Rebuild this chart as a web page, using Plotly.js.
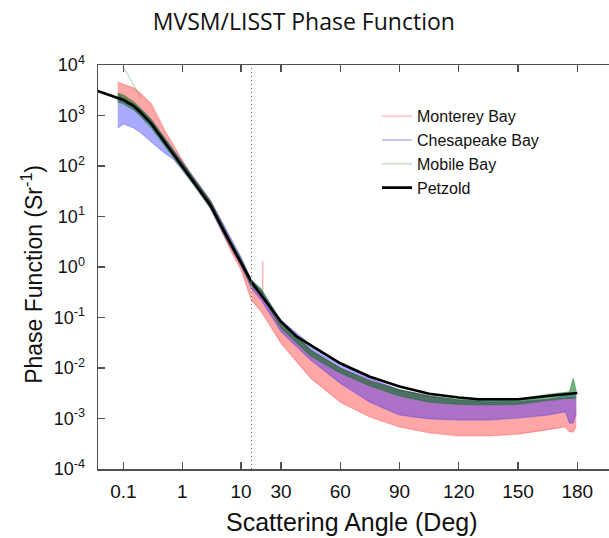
<!DOCTYPE html>
<html>
<head>
<meta charset="utf-8">
<script src="https://cdn.plot.ly/plotly-3.0.1.min.js"></script>
<style>
  html, body { margin: 0; padding: 0; background: #fff; overflow: hidden; }
  #chart { width: 609px; height: 538px; }
</style>
</head>
<body>
<div id="chart"></div>
<script>
// ---------------- data ----------------
const splitAngle = 15; // degrees: log scale below, linear above

const bandAngles = [0.08, 0.1, 0.15, 0.2, 0.3, 0.5, 0.7, 1, 1.5, 2, 3, 5, 7, 10, 15,
                    20, 30, 45, 60, 75, 90, 105, 120, 135, 150, 165, 174, 176, 178, 179.5];

const montereyUpper = [4600, 4200, 3510, 2670, 1690, 516, 261, 131, 63, 40, 21, 6.5, 3.0, 1.44, 0.55,
                       0.32, 0.085, 0.0227, 0.0100, 0.0058, 0.0037, 0.0028, 0.0023, 0.0021, 0.0021, 0.0023, 0.0025, 0.0026, 0.0026, 0.0025];
const montereyLower = [2030, 1850, 1410, 1070, 680, 300, 173, 95, 50, 30, 14.7, 4.3, 1.9, 0.87, 0.22,
                       0.13, 0.031, 0.0063, 0.0021, 0.00107, 0.00068, 0.00052, 0.00045, 0.00045, 0.00049, 0.00059, 0.00068, 0.00054, 0.00054, 0.0007];

const chesapeakeUpper = [2550, 2220, 1690, 1285, 815, 358, 207, 120, 63, 40, 21, 7.1, 3.4, 1.58, 0.55,
                         0.35, 0.089, 0.0285, 0.012, 0.0063, 0.0037, 0.0028, 0.0023, 0.0022, 0.0022, 0.0024, 0.0028, 0.0032, 0.0032, 0.0028];
const chesapeakeLower = [565, 680, 565, 450, 298, 181, 138, 83, 46, 29, 14.7, 4.5, 2.2, 1.05, 0.38,
                         0.22, 0.052, 0.0144, 0.0050, 0.0021, 0.00117, 0.00098, 0.00093, 0.00093, 0.00102, 0.00117, 0.00135, 0.00081, 0.00081, 0.0013];

const mobileUpper = [2790, 2550, 1850, 1346, 815, 358, 217, 120, 63, 40, 20.3, 6.5, 3.0, 1.44, 0.55,
                     0.367, 0.0815, 0.0227, 0.0100, 0.0055, 0.0037, 0.0028, 0.0024, 0.0023, 0.0024, 0.0030, 0.0033, 0.0034, 0.0063, 0.0034];
const mobileLower = [1850, 1690, 1285, 933, 565, 249, 151, 87, 46, 29, 14.7, 4.7, 2.27, 1.1, 0.42,
                     0.279, 0.062, 0.0173, 0.0080, 0.0044, 0.0028, 0.0021, 0.0019, 0.00185, 0.0019, 0.0023, 0.0025, 0.0025, 0.0025, 0.0026];

const mobileSpikeAngles = [0.1, 0.15, 0.2];
const mobileSpikeValues = [9100, 4090, 2220];
const montereySpikeAngles = [20.7, 20.7];
const montereySpikeValues = [0.25, 1.3];

const petzoldAngles = [0.0365, 0.06, 0.1, 0.15, 0.2, 0.3, 0.5, 0.7, 1, 1.5, 2, 3, 5, 7, 10, 15,
                       21, 30, 38, 45, 60, 75, 90, 105, 120, 130, 150, 165, 180];
const petzoldValues = [3055, 2540, 2030, 1540, 1120, 680, 298, 181, 100, 52.8, 33.5, 16.9, 5.4, 2.6, 1.26, 0.505,
                       0.24, 0.0826, 0.0417, 0.028, 0.0124, 0.0067, 0.0043, 0.0031, 0.0026, 0.0024, 0.0024, 0.0028, 0.0032];

const logTickVals = [0.1, 1, 10];
const logTickText = ['0.1', '1', '10'];
const linTickVals = [30, 60, 90, 120, 150, 180];
const yTickVals = [1e-4, 1e-3, 1e-2, 1e-1, 1, 1e1, 1e2, 1e3, 1e4];
const yTickText = ['10<sup>-4</sup>', '10<sup>-3</sup>', '10<sup>-2</sup>', '10<sup>-1</sup>', '10<sup>0</sup>',
                   '10<sup>1</sup>', '10<sup>2</sup>', '10<sup>3</sup>', '10<sup>4</sup>'];

// ---------------- helpers ----------------
function splitCurve(ang, val) {
  const lo = {x: [], y: []}, hi = {x: [], y: []};
  for (let i = 0; i < ang.length; i++) {
    if (ang[i] <= splitAngle) { lo.x.push(ang[i]); lo.y.push(val[i]); }
    if (ang[i] >= splitAngle) { hi.x.push(ang[i]); hi.y.push(val[i]); }
  }
  return {log: lo, lin: hi};
}

const traces = [];
function addBand(name, upper, lower, rgb, fillA, lineA, legendColor) {
  const u = splitCurve(bandAngles, upper);
  const l = splitCurve(bandAngles, lower);
  [['log', 'x'], ['lin', 'x2']].forEach(([part, ax]) => {
    traces.push({
      x: u[part].x.concat(l[part].x.slice().reverse()),
      y: u[part].y.concat(l[part].y.slice().reverse()),
      xaxis: ax, yaxis: 'y', mode: 'lines', fill: 'toself',
      fillcolor: `rgba(${rgb},${fillA})`, line: {width: 0}, showlegend: false,
      hoverinfo: 'skip'
    });
  });
  [['log', 'x'], ['lin', 'x2']].forEach(([part, ax]) => {
    traces.push({x: u[part].x, y: u[part].y, xaxis: ax, yaxis: 'y', mode: 'lines',
      line: {color: `rgba(${rgb},${lineA})`, width: 1.2}, showlegend: false});
    traces.push({x: l[part].x, y: l[part].y, xaxis: ax, yaxis: 'y', mode: 'lines',
      line: {color: `rgba(${rgb},${lineA})`, width: 1.2}, showlegend: false});
  });
  // legend entry (no visible data of its own)
  traces.push({x: [null], y: [null], xaxis: 'x', yaxis: 'y', mode: 'lines', name: name,
    line: {color: legendColor, width: 2}, showlegend: true});
}

addBand('Monterey Bay', montereyUpper, montereyLower, '255,0,0', 0.35, 0.25, 'rgb(255,205,205)');
traces.push({x: montereySpikeAngles, y: montereySpikeValues, xaxis: 'x2', yaxis: 'y', mode: 'lines',
  line: {color: 'rgba(255,0,0,0.3)', width: 1.5}, showlegend: false});
addBand('Chesapeake Bay', chesapeakeUpper, chesapeakeLower, '20,20,255', 0.36, 0.25, 'rgb(200,200,250)');
addBand('Mobile Bay', mobileUpper, mobileLower, '0,115,20', 0.55, 0.35, 'rgb(205,228,205)');
traces.push({x: mobileSpikeAngles, y: mobileSpikeValues, xaxis: 'x', yaxis: 'y', mode: 'lines',
  line: {color: 'rgba(0,120,0,0.25)', width: 1.2}, showlegend: false});

const pz = splitCurve(petzoldAngles, petzoldValues);
traces.push({x: pz.log.x, y: pz.log.y, xaxis: 'x', yaxis: 'y', mode: 'lines',
  line: {color: '#000', width: 2.6}, name: 'Petzold', showlegend: true});
traces.push({x: pz.lin.x, y: pz.lin.y, xaxis: 'x2', yaxis: 'y', mode: 'lines',
  line: {color: '#000', width: 2.6}, showlegend: false});

// ---------------- layout ----------------
const plotL = 98, plotR = 609, plotT = 65, plotB = 469.3;
const boundaryPx = 251.4;
const dom = (boundaryPx - plotL) / (plotR - plotL);
const logLeft = -1.4325;
const linPxPerDeg = 1.975;
const linRight = splitAngle + (plotR - boundaryPx) / linPxPerDeg;

const font = 'Arial, "Liberation Sans", sans-serif';
const axisCommon = {
  showline: true, linecolor: '#505050', linewidth: 1.5,
  ticks: 'inside', ticklen: 7, tickwidth: 1.3, tickcolor: '#505050',
  showgrid: false, zeroline: false, mirror: 'ticks',
  tickfont: {family: font, size: 19, color: '#111'}
};

const layout = {
  width: 609, height: 538,
  margin: {l: plotL, r: 0, t: plotT, b: 538 - plotB},
  paper_bgcolor: '#fff', plot_bgcolor: '#fff',
  title: {text: 'MVSM/LISST Phase Function',
          font: {family: '"Open Sans", "Noto Sans", sans-serif', size: 23, color: '#111'},
          x: 0.499, xref: 'container', xanchor: 'center', y: 0.959, yref: 'container', yanchor: 'middle'},
  showlegend: true,
  legend: {x: (377 - plotL) / (plotR - plotL), xanchor: 'left', y: 0.915, yanchor: 'top',
           bgcolor: 'rgba(0,0,0,0)', borderwidth: 0, traceorder: 'normal',
           font: {family: font, size: 16, color: '#111'}},
  xaxis: Object.assign({}, axisCommon, {
    type: 'log', domain: [0, dom], range: [logLeft, Math.log10(splitAngle)],
    tickmode: 'array', tickvals: logTickVals, ticktext: logTickText, anchor: 'y',
    ticklabelstandoff: 5
  }),
  xaxis2: Object.assign({}, axisCommon, {
    type: 'linear', domain: [dom, 1], range: [splitAngle, linRight],
    tickmode: 'array', tickvals: linTickVals, anchor: 'y',
    ticklabelstandoff: 5
  }),
  yaxis: Object.assign({}, axisCommon, {
    type: 'log', range: [-4, 4], tickmode: 'array', tickvals: yTickVals, ticktext: yTickText,
    mirror: false, anchor: 'x',
    tickfont: {family: font, size: 18, color: '#111'},
    ticklabelstandoff: 8
  }),
  annotations: [{
    text: 'Scattering Angle (Deg)', xref: 'paper', yref: 'paper',
    x: 0.497, y: (plotB - 522) / (plotB - plotT), xanchor: 'center', yanchor: 'middle', showarrow: false,
    font: {family: font, size: 25, color: '#111'}
  }, {
    text: 'Phase Function (Sr<sup>-1</sup>)', xref: 'paper', yref: 'paper', textangle: -90,
    x: (32 - plotL) / (plotR - plotL), y: (plotB - 275) / (plotB - plotT),
    xanchor: 'center', yanchor: 'middle', showarrow: false,
    font: {family: font, size: 23, color: '#111'}
  }],
  shapes: [{
    type: 'line', xref: 'x2', yref: 'paper', x0: splitAngle, x1: splitAngle, y0: 0, y1: 1,
    line: {color: '#000', width: 1.3, dash: '1px,3px'}
  }]
};

Plotly.newPlot('chart', traces, layout, {staticPlot: true, displayModeBar: false});
</script>
</body>
</html>
